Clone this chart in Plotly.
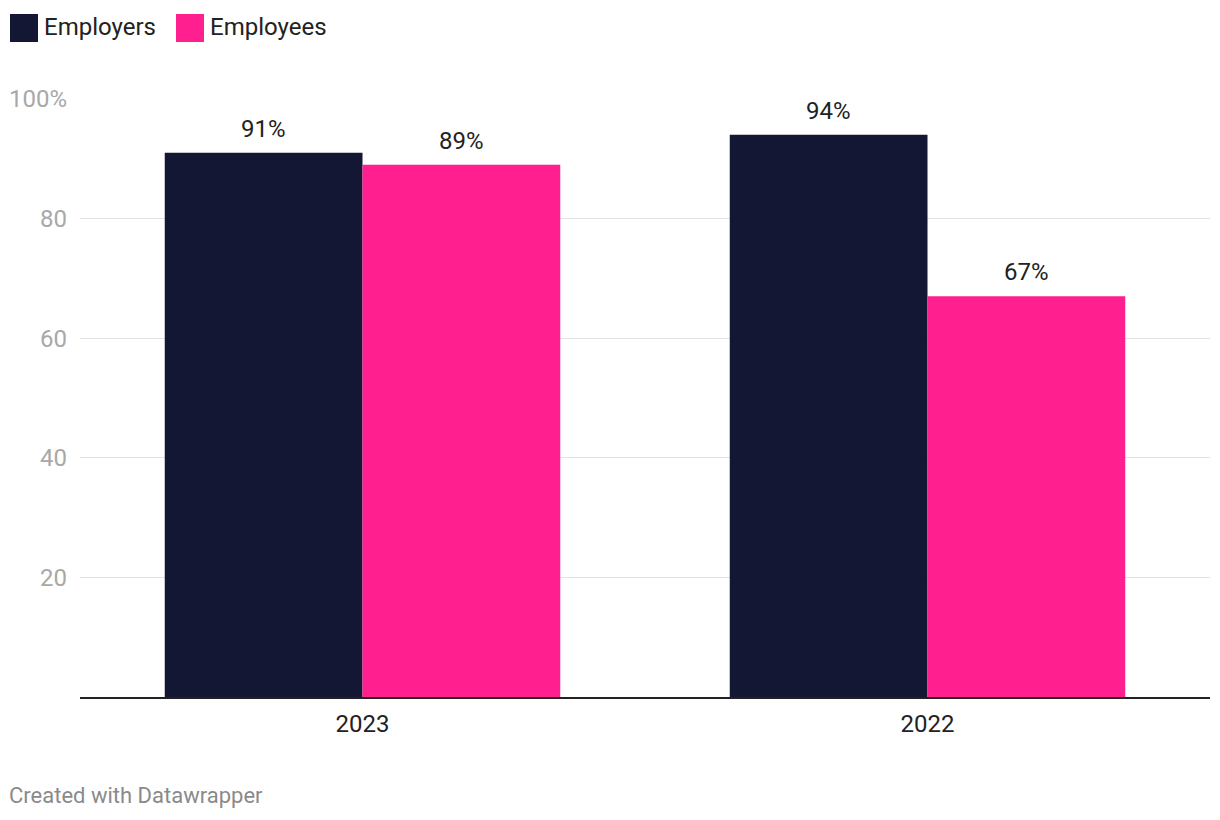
import plotly.graph_objects as go

categories = ["2023", "2022"]
employers = [91, 94]
employees = [89, 67]
series_names = ["Employers", "Employees"]
colors = ["#141733", "#ff1f8e"]
ytick_vals = [20, 40, 60, 80, 100]
ytick_text = ["20", "40", "60", "80", "100%"]

OFF = 8  # page body margin
W, H = 1220 - OFF, 820 - OFF
ML, MR, MT, MB = 80 - OFF, 10, 98 - OFF, 123
PW, PH = W - ML - MR, H - MT - MB

def px(x):
    return (x - OFF - ML) / PW

def py(y):
    return (H - MB - (y - OFF)) / PH

FONT = "Roboto"

fig = go.Figure()
for name, vals, col in zip(series_names, [employers, employees], colors):
    fig.add_trace(go.Bar(x=categories, y=vals, name=name, marker=dict(color=col, line=dict(width=0)),
                         showlegend=False))

# value labels
bar_px = PW / len(categories) * 0.7 / 2
for i, (name, vals) in enumerate(zip(series_names, [employers, employees])):
    shift = (-0.5 if i == 0 else 0.5) * bar_px
    for j, v in enumerate(vals):
        fig.add_annotation(x=j, y=v, text=f"{v}%", showarrow=False, xshift=shift, yshift=24,
                           font=dict(family=FONT, size=24, color="#222222"))

# legend
legend_items = [(10, 42), (176, 208)]
for (sx, tx), name, col in zip(legend_items, series_names, colors):
    fig.add_shape(type="rect", xref="paper", yref="paper", x0=px(sx), x1=px(sx + 28),
                  y0=py(42), y1=py(14), fillcolor=col, line=dict(width=0))
    fig.add_annotation(xref="paper", yref="paper", x=px(tx), y=py(27), text=name, showarrow=False,
                       xanchor="left", yanchor="middle",
                       font=dict(family=FONT, size=24, color="#222222"))

fig.add_annotation(xref="paper", yref="paper", x=px(7), y=py(795), text="Created with Datawrapper",
                   showarrow=False, xanchor="left", yanchor="middle",
                   font=dict(family=FONT, size=22, color="#8a8a8a"))

fig.update_layout(
    width=W, height=H, margin=dict(l=ML, r=MR, t=MT, b=MB, autoexpand=False),
    paper_bgcolor="white", plot_bgcolor="white",
    barmode="group", bargap=0.3, bargroupgap=0,
    font=dict(family=FONT),
    xaxis=dict(type="category", range=[-0.5, 1.5], showgrid=False, showline=True, linecolor="#222222",
               linewidth=2, tickfont=dict(family=FONT, size=24, color="#222222"), ticks="",
               ticklabelstandoff=4, automargin=False),
    yaxis=dict(range=[0, 100.15], tickvals=ytick_vals, ticktext=ytick_text, showgrid=True,
               gridcolor="#e3e3e3", gridwidth=1, zeroline=False, showline=False,
               tickfont=dict(family=FONT, size=24, color="#a8a8a8"), ticks="", ticklabelstandoff=12,
               automargin=False),
)

fig.write_html("out.html")
